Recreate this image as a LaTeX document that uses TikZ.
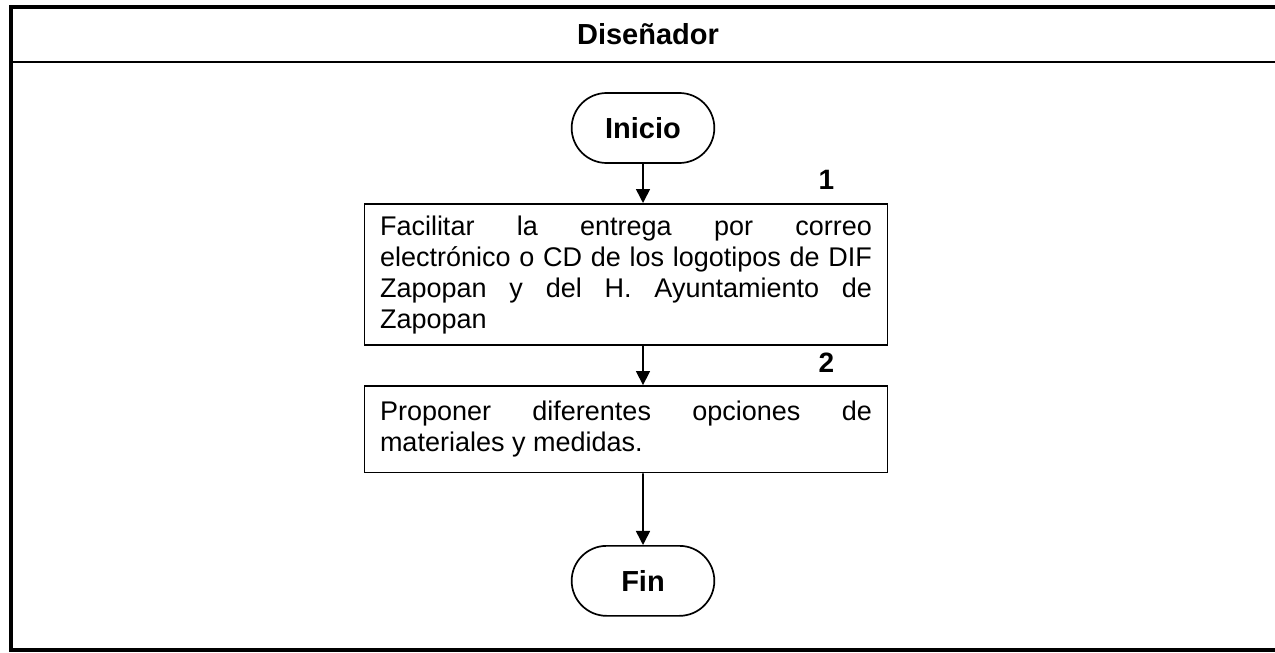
\documentclass[tikz,border=0pt]{standalone}
\usepackage{fontspec}
\setmainfont{Liberation Sans}
\usetikzlibrary{arrows.meta,positioning,shapes.misc}
\definecolor{ink}{RGB}{0,0,0}
\tikzset{
  >={Triangle[length=7pt,width=7pt]},
  lane/.style={draw=ink,line width=1.6pt},
  lanehead/.style={draw=ink,line width=0.9pt},
  terminal/.style={rounded rectangle,draw=ink,line width=0.85pt,
    minimum width=78pt,minimum height=35pt,
    font=\fontsize{14.5}{16}\selectfont\bfseries},
  actbox/.style={draw=ink,line width=0.85pt,text width=246pt,align=justify,
    inner xsep=7.75pt,inner ysep=5.8pt,
    font=\fontsize{13.5}{15.5}\selectfont},
  stepnum/.style={font=\fontsize{14}{16}\selectfont\bfseries,text=ink},
  flow/.style={->,line width=0.8pt,draw=ink},
}

\begin{document}
\hyphenpenalty=10000
\begin{tikzpicture}[x=0.5pt,y=-0.5pt]
  \useasboundingbox (0,0) rectangle (1275,653);
  % swimlane
  \draw[lane] (1276,7) -- (11,7) -- (11,650) -- (1276,650);
  \draw[lanehead] (11,62) -- (1276,62);
  \node[stepnum,font=\fontsize{14.5}{16}\selectfont\bfseries] (rol) at (648,34) {Diseñador};

  \node[terminal] (inicio) at (643,128) {Inicio};
  \node[actbox,anchor=north] (paso1) at (626,203)
    {Facilitar la entrega por correo\linebreak
     electrónico o CD de los logotipos de DIF\linebreak
     Zapopan y del H. Ayuntamiento de\linebreak
     Zapopan};
  \node[actbox,inner ysep=7.6pt,anchor=north,below=19.5pt of paso1] (paso2)
    {Proponer diferentes opciones de\linebreak
     materiales y medidas.};
  \node[terminal,anchor=north] (fin) at (643,545) {Fin};

  \node[stepnum,anchor=south] (n1) at ([xshift=-31pt,yshift=3pt]paso1.north east) {1};
  \node[stepnum,anchor=south] (n2) at ([xshift=-31pt,yshift=3pt]paso2.north east) {2};

  \draw[flow] (inicio) -- (inicio |- paso1.north);
  \draw[flow] (inicio |- paso1.south) -- (inicio |- paso2.north);
  \draw[flow] (inicio |- paso2.south) -- (fin);
\end{tikzpicture}
\end{document}
